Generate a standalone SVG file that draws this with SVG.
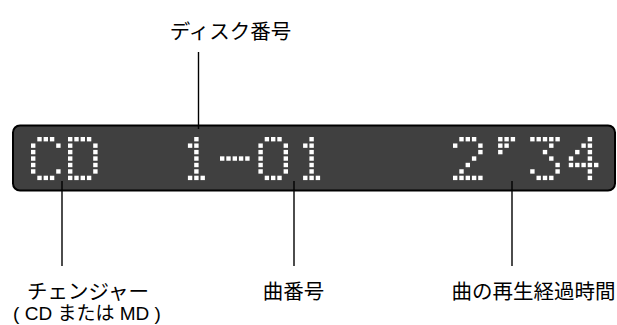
<svg xmlns="http://www.w3.org/2000/svg" xmlns:xlink="http://www.w3.org/1999/xlink" width="617" height="325" viewBox="0 0 617 325">
<style>
.lbl{font-family:"Noto Sans CJK JP","Noto Sans CJK SC",sans-serif;font-size:20.5px;fill:#000;text-anchor:middle}
.sub{font-family:"Liberation Sans","Noto Sans CJK JP",sans-serif;font-size:19px;fill:#000;text-anchor:middle}
.ln{stroke:#000;stroke-width:1.4;fill:none}
.dot{fill:#fff}
</style>
<defs>
<rect id="d" class="dot" width="4.4" height="4.4"/>
<g id="gC">
<use href="#d" x="6.3" y="0"/><use href="#d" x="12.6" y="0"/><use href="#d" x="18.9" y="0"/>
<use href="#d" x="0" y="6.45"/><use href="#d" x="25.2" y="6.45"/>
<use href="#d" x="0" y="12.9"/><use href="#d" x="0" y="19.35"/><use href="#d" x="0" y="25.8"/>
<use href="#d" x="0" y="32.25"/><use href="#d" x="25.2" y="32.25"/>
<use href="#d" x="6.3" y="38.7"/><use href="#d" x="12.6" y="38.7"/><use href="#d" x="18.9" y="38.7"/>
</g>
<g id="gD">
<use href="#d" x="0" y="0"/><use href="#d" x="6.3" y="0"/><use href="#d" x="12.6" y="0"/><use href="#d" x="18.9" y="0"/>
<use href="#d" x="0" y="6.45"/><use href="#d" x="25.2" y="6.45"/>
<use href="#d" x="0" y="12.9"/><use href="#d" x="25.2" y="12.9"/>
<use href="#d" x="0" y="19.35"/><use href="#d" x="25.2" y="19.35"/>
<use href="#d" x="0" y="25.8"/><use href="#d" x="25.2" y="25.8"/>
<use href="#d" x="0" y="32.25"/><use href="#d" x="25.2" y="32.25"/>
<use href="#d" x="0" y="38.7"/><use href="#d" x="6.3" y="38.7"/><use href="#d" x="12.6" y="38.7"/><use href="#d" x="18.9" y="38.7"/>
</g>
<g id="g1">
<use href="#d" x="12.6" y="0"/>
<use href="#d" x="6.3" y="6.45"/><use href="#d" x="12.6" y="6.45"/>
<use href="#d" x="12.6" y="12.9"/><use href="#d" x="12.6" y="19.35"/><use href="#d" x="12.6" y="25.8"/><use href="#d" x="12.6" y="32.25"/>
<use href="#d" x="6.3" y="38.7"/><use href="#d" x="12.6" y="38.7"/><use href="#d" x="18.9" y="38.7"/>
</g>
<g id="gDash">
<use href="#d" x="0" y="19.35"/><use href="#d" x="6.3" y="19.35"/><use href="#d" x="12.6" y="19.35"/><use href="#d" x="18.9" y="19.35"/><use href="#d" x="25.2" y="19.35"/>
</g>
<g id="g0">
<use href="#d" x="6.3" y="0"/><use href="#d" x="12.6" y="0"/><use href="#d" x="18.9" y="0"/>
<use href="#d" x="0" y="6.45"/><use href="#d" x="25.2" y="6.45"/>
<use href="#d" x="0" y="12.9"/><use href="#d" x="25.2" y="12.9"/>
<use href="#d" x="0" y="19.35"/><use href="#d" x="25.2" y="19.35"/>
<use href="#d" x="0" y="25.8"/><use href="#d" x="25.2" y="25.8"/>
<use href="#d" x="0" y="32.25"/><use href="#d" x="25.2" y="32.25"/>
<use href="#d" x="6.3" y="38.7"/><use href="#d" x="12.6" y="38.7"/><use href="#d" x="18.9" y="38.7"/>
</g>
<g id="g2">
<use href="#d" x="6.3" y="0"/><use href="#d" x="12.6" y="0"/><use href="#d" x="18.9" y="0"/>
<use href="#d" x="0" y="6.45"/><use href="#d" x="25.2" y="6.45"/>
<use href="#d" x="25.2" y="12.9"/>
<use href="#d" x="18.9" y="19.35"/>
<use href="#d" x="12.6" y="25.8"/>
<use href="#d" x="6.3" y="32.25"/>
<use href="#d" x="0" y="38.7"/><use href="#d" x="6.3" y="38.7"/><use href="#d" x="12.6" y="38.7"/><use href="#d" x="18.9" y="38.7"/><use href="#d" x="25.2" y="38.7"/>
</g>
<g id="gQ">
<use href="#d" x="6.3" y="0"/><use href="#d" x="12.6" y="0"/><use href="#d" x="18.9" y="0"/>
<use href="#d" x="6.3" y="6.45"/><use href="#d" x="12.6" y="6.45"/>
<use href="#d" x="6.3" y="12.9"/>
</g>
<g id="g3">
<use href="#d" x="0" y="0"/><use href="#d" x="6.3" y="0"/><use href="#d" x="12.6" y="0"/><use href="#d" x="18.9" y="0"/><use href="#d" x="25.2" y="0"/>
<use href="#d" x="18.9" y="6.45"/>
<use href="#d" x="12.6" y="12.9"/>
<use href="#d" x="18.9" y="19.35"/>
<use href="#d" x="25.2" y="25.8"/>
<use href="#d" x="0" y="32.25"/><use href="#d" x="25.2" y="32.25"/>
<use href="#d" x="6.3" y="38.7"/><use href="#d" x="12.6" y="38.7"/><use href="#d" x="18.9" y="38.7"/>
</g>
<g id="g4">
<use href="#d" x="18.9" y="0"/>
<use href="#d" x="12.6" y="6.45"/><use href="#d" x="18.9" y="6.45"/>
<use href="#d" x="6.3" y="12.9"/><use href="#d" x="18.9" y="12.9"/>
<use href="#d" x="0" y="19.35"/><use href="#d" x="18.9" y="19.35"/>
<use href="#d" x="0" y="25.8"/><use href="#d" x="6.3" y="25.8"/><use href="#d" x="12.6" y="25.8"/><use href="#d" x="18.9" y="25.8"/><use href="#d" x="25.2" y="25.8"/>
<use href="#d" x="18.9" y="32.25"/>
<use href="#d" x="18.9" y="38.7"/>
</g>
</defs>
<g id="display">
<rect x="13" y="125.5" width="602" height="65" rx="7" ry="7" fill="#404040" stroke="#000" stroke-width="2"/>
<use href="#gC" x="31" y="137"/>
<use href="#gD" x="68" y="137"/>
<use href="#g1" x="181.6" y="137"/>
<use href="#gDash" x="220" y="137"/>
<use href="#g0" x="258.4" y="137"/>
<use href="#g1" x="296.8" y="137"/>
<use href="#g2" x="453" y="137"/>
<use href="#gQ" x="491.8" y="137"/>
<use href="#g3" x="530.2" y="137"/>
<use href="#g4" x="568.8" y="137"/>
</g>
<g id="connectors">
<line class="ln" x1="198.5" y1="52" x2="198.5" y2="129"/>
<line class="ln" x1="62" y1="181" x2="62" y2="266"/>
<line class="ln" x1="294" y1="181" x2="294" y2="266"/>
<line class="ln" x1="512" y1="181" x2="512" y2="266"/>
</g>
<g id="label-disc"><text class="lbl" x="230.5" y="38.5">ディスク番号</text></g>
<g id="label-changer">
<text class="lbl" x="88" y="298.5">チェンジャー</text>
<text class="sub" x="87" y="319.5">( CD または MD )</text>
</g>
<g id="label-track"><text class="lbl" x="293.5" y="298.5">曲番号</text></g>
<g id="label-time"><text class="lbl" x="533.6" y="298.5">曲の再生経過時間</text></g>
</svg>
